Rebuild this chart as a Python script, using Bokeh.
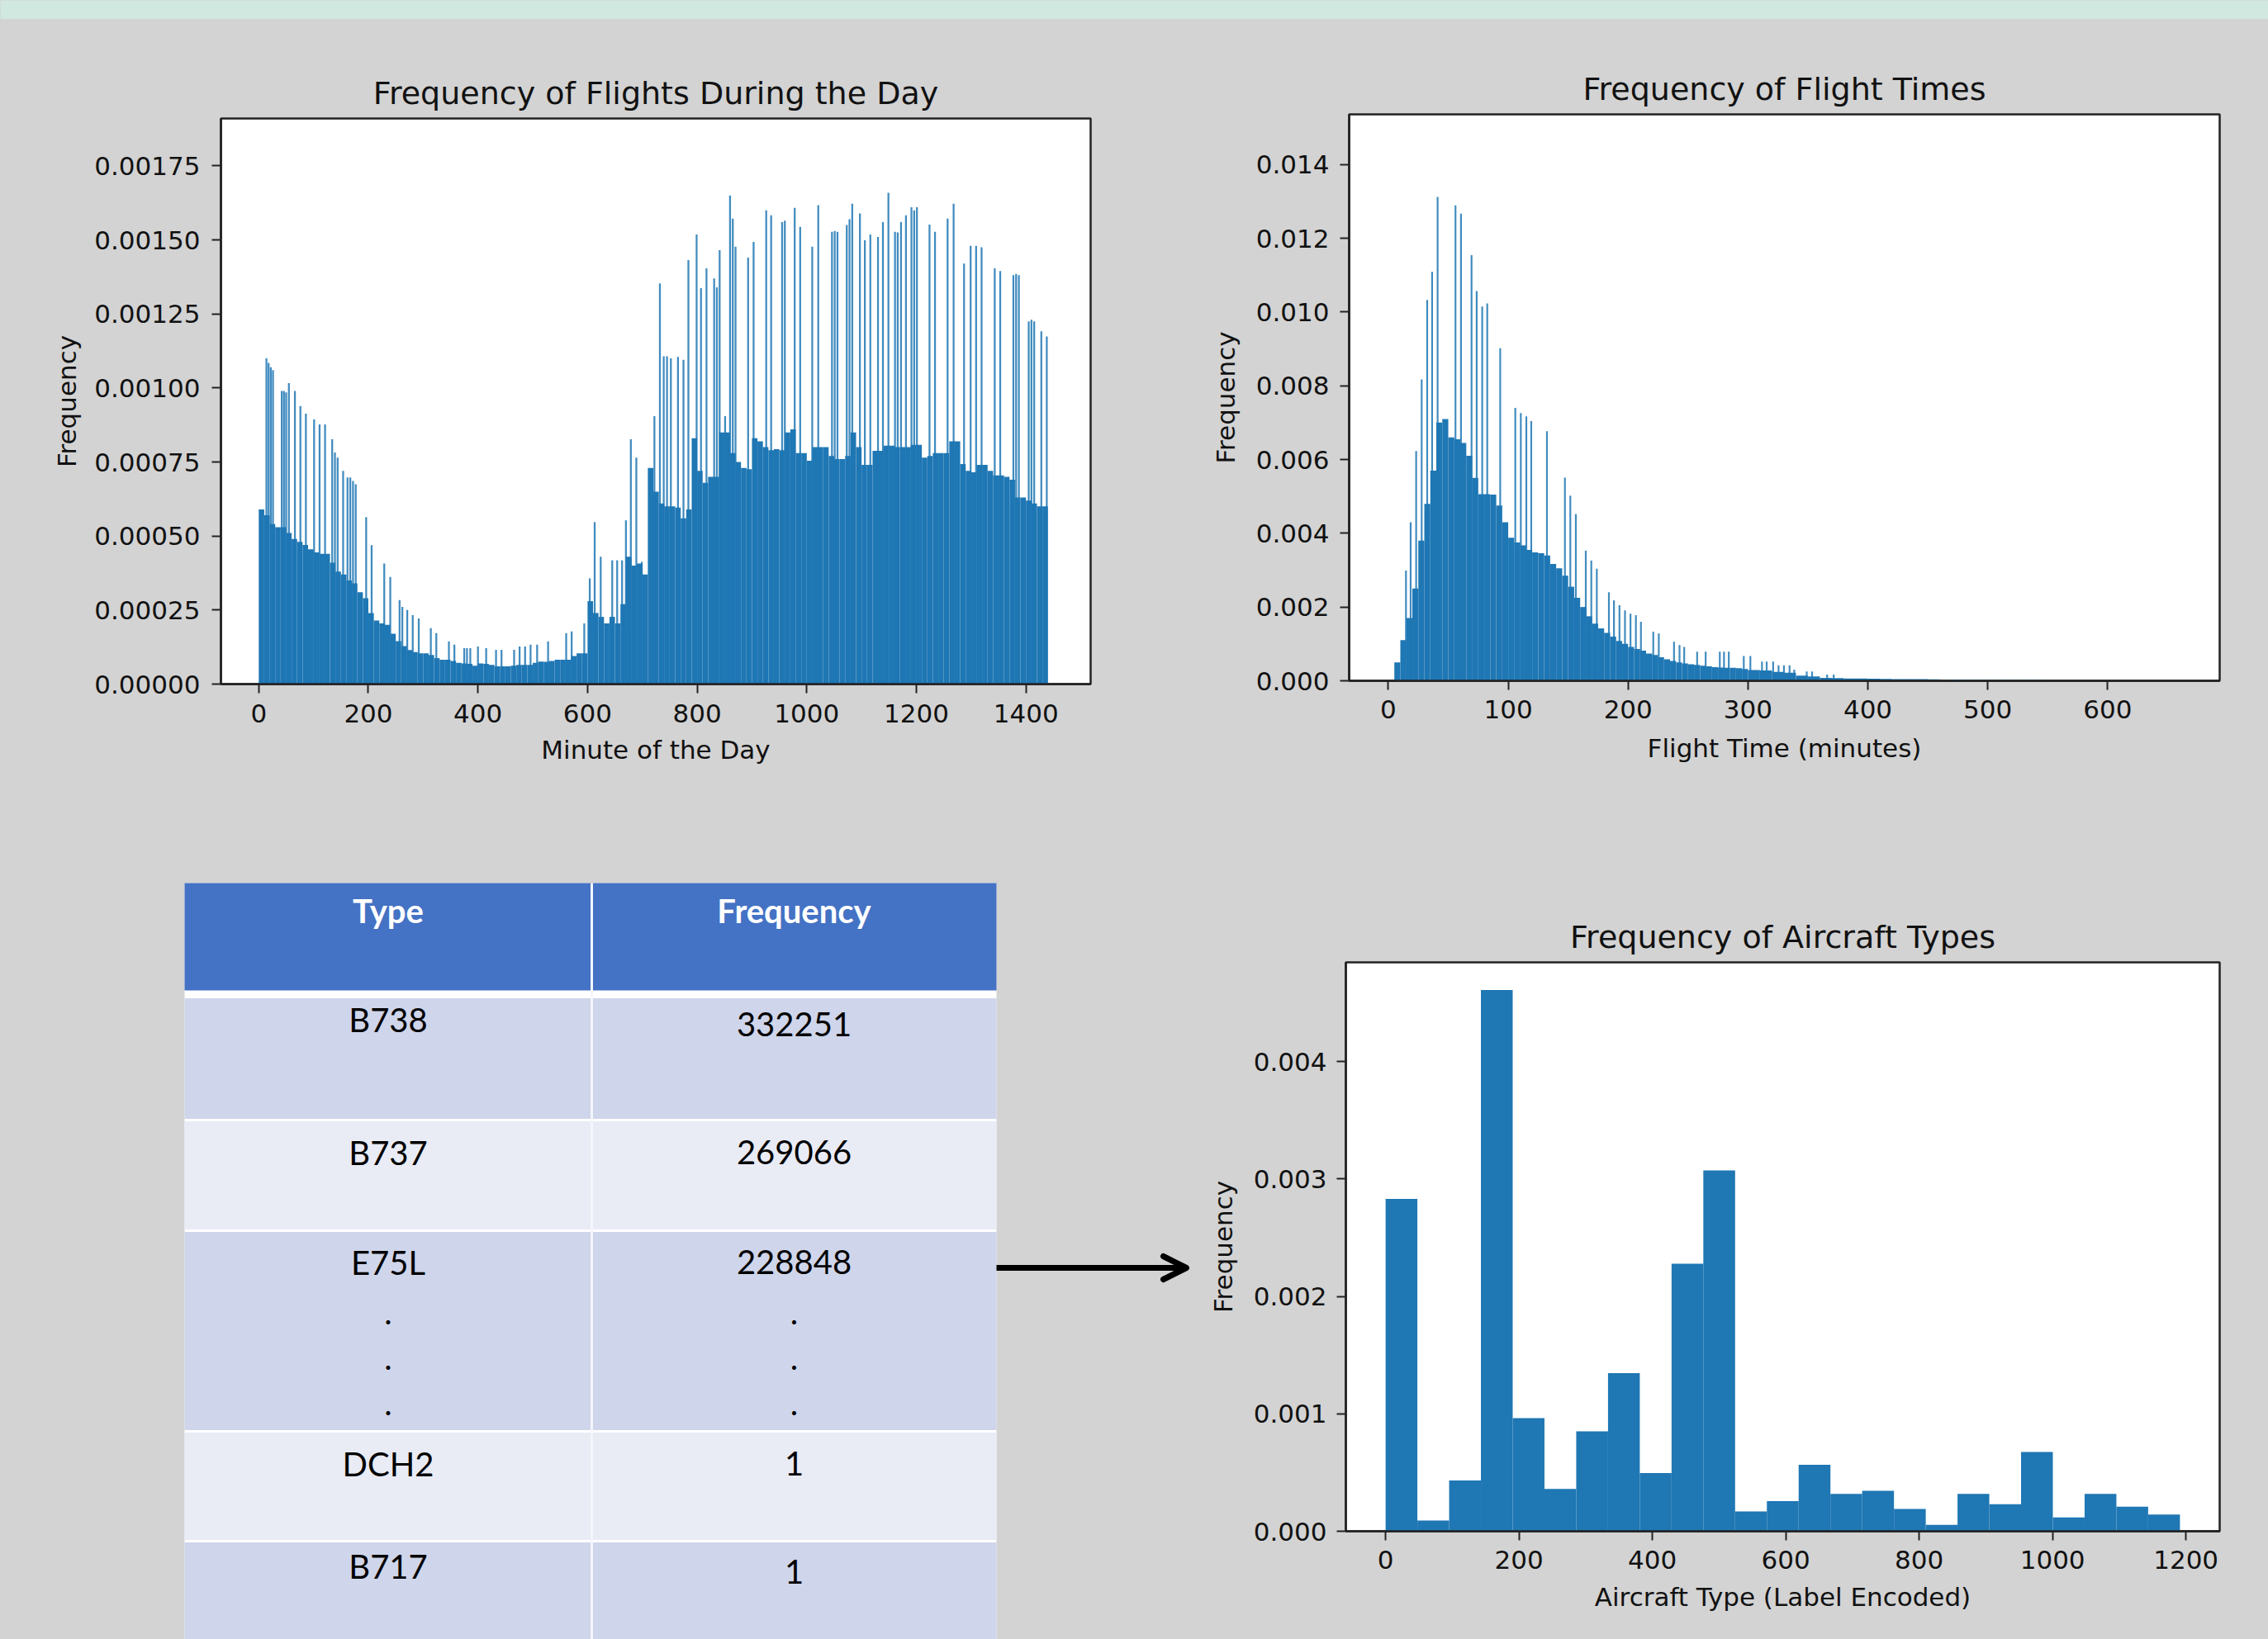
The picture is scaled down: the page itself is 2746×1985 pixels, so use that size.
import numpy as np
from bokeh.plotting import figure
from bokeh.layouts import column, row
from bokeh.models import Range1d, FixedTicker, PrintfTickFormatter, Arrow, OpenHead
from bokeh.core.properties import value
from bokeh.embed import file_html
from bokeh.resources import INLINE

# ------------------------------------------------------------------ data
# Chart 1: minute of the day (density, values in 1e-5), base level per 10-minute bin
day_base_start = 0
day_base_step = 10
day_base_e5 = [59, 57, 54, 53, 53, 51, 49, 48, 47, 45.5,
               44.5, 44, 44, 41, 38, 37, 35, 34, 31, 29,
               24, 21.5, 20.5, 20, 17, 14.5, 12.8, 11.5, 10.8, 10.4,
               10.4, 9.8, 8.8, 8.2, 8.2, 7.8, 7.2, 7.0, 6.8, 6.2,
               7.0, 6.8, 6.5, 6.0, 6.0, 6.0, 6.2, 6.5, 6.5, 6.5,
               7.2, 7.6, 7.5, 7.8, 8.2, 8.2, 8.2, 9.5, 10.4, 10.4,
               28, 24, 22.7, 20.5, 22.7, 20.5, 27, 43, 40, 40.7,
               37, 73, 65, 61, 60, 60, 59.6, 56, 59, 83,
               72, 68, 70, 70, 85, 85, 78, 75, 73, 72.6,
               83, 82, 80, 79, 79.3, 79, 85, 86, 78, 78,
               75.4, 80, 80, 80, 77, 76, 76, 77, 85, 80,
               74, 74, 78.8, 78.8, 80.5, 80.5, 80, 80, 80, 80.8,
               80.8, 76.5, 77, 78, 78, 78, 82, 82, 74.3, 72,
               71.5, 74, 74, 72, 70.5, 70.5, 70, 69, 63, 63,
               62, 61, 60, 60]
day_spike_x = [14, 18, 22, 26, 42, 46, 50, 55, 66, 76, 86, 101, 111, 121,
               134, 139, 144, 154, 162, 167, 172, 177, 196, 206, 229, 240,
               257, 262, 271, 281, 292, 314, 324, 347, 357, 375, 380, 386,
               400, 415, 433, 443, 466, 476, 486, 496, 508, 528, 561, 571,
               594, 604, 613, 624, 645, 654, 663, 670, 679, 689, 699,
               722, 732, 739, 745, 752, 765, 775, 784, 799, 807, 817, 831,
               836, 841, 851, 860, 865, 870, 893, 903, 926, 935, 955, 960,
               978, 988, 1010, 1021, 1046, 1051, 1056, 1073, 1078, 1083,
               1097, 1106, 1116, 1130, 1139, 1149, 1161, 1166, 1172, 1181,
               1191, 1196, 1201, 1224, 1234, 1257, 1268, 1287, 1299, 1309,
               1319, 1343, 1353, 1377, 1382, 1387, 1405, 1410, 1415, 1428, 1438]
day_spike_e5 = [110, 108.5, 107, 106, 99, 99, 98.5, 101.6, 99, 93.9, 91.3, 89.4, 87.7, 87.7,
                82.7, 78.2, 76.5, 72, 69.8, 69.8, 68.6, 67.5, 56.4, 46.9, 40.7, 36.2,
                28.4, 26.1, 25, 23.3, 22.2, 18.9, 17.2, 14.4, 13.3, 12.1, 12.1, 12.1,
                12.7, 12.1, 11.6, 11.6, 11.6, 12.7, 12.7, 13.3, 13.3, 14.4, 17.2, 17.8,
                20.5, 35.7, 54.7, 43, 41.8, 41.8, 41.8, 55.3, 82.7, 76.5, 41.3,
                90.5, 135.3, 110.7, 110.7, 110, 110.5, 109.5, 143.2, 151.8, 133.7, 140.4, 137,
                134, 146.5, 90.5, 165, 157.2, 147.7, 144, 149.3, 160, 158.3, 156, 156.5,
                160.8, 154.4, 147.7, 161.7, 152.7, 153, 152.7, 155, 157, 162.2,
                158.9, 149.9, 151.8, 151, 156, 165.9, 152.7, 152.5, 156, 158.3,
                161, 160, 161, 155.2, 152.7, 157.2, 162.2, 142, 148, 148,
                147.5, 140.4, 139.5, 138.1, 138.5, 138.1, 122.5, 123, 122.5, 119.1, 117.4]

# Chart 2: flight time in minutes (density, values in 1e-4)
ft_base_start = 5
ft_base_step = 5
ft_base_e4 = [5, 11, 17, 25, 38, 48, 57, 70, 71, 66,
              65.5, 64.5, 61, 55, 50.6, 50.6, 50.5, 47.5, 43, 38.8,
              37.5, 36.7, 35.5, 34.8, 34.6, 34, 31.7, 30.5, 28.5, 25.5,
              22.5, 20, 17.5, 15.5, 14.2, 13, 12, 10.8, 10, 9.2,
              8.6, 8.2, 7.4, 7, 6.4, 5.8, 5.4, 5, 4.7, 4.5,
              4.3, 4.1, 3.9, 3.7, 3.6, 3.5, 3.5, 3.4, 3.2]
ft_tail_start = 300
ft_tail_step = 10
ft_tail_e4 = [2.9, 2.8, 2.4, 2.2, 1.4, 1.2, 0.8, 0.7, 0.6, 0.6,
              0.55, 0.5, 0.45, 0.45, 0.42, 0.4, 0.2, 0.35, 0.3, 0.3,
              0.25, 0.3, 0.25, 0.3, 0.2]
ft_spike_x = [14.7, 18.6, 23.2, 27.8, 32.4, 36.5, 41.1, 56, 60.6, 69.4, 73.7, 78.3, 82.5,
              93.3, 105.9, 110.5, 115.1, 119.2, 132.3, 147.3, 151.8, 156.4, 164.7, 169.3,
              173.9, 184, 188.2, 192.8, 197.4, 202, 206.5, 210.7, 221, 225.6, 238.3, 242.9,
              246.8, 257.6, 264.7, 276.5, 280, 284, 296.5, 302, 311.7, 315.6, 321, 325.5,
              330, 334.7, 338.6, 349, 353.5, 366, 371.5]
ft_spike_e4 = [29.9, 43, 62.3, 81.7, 103.3, 110.9, 131.2, 128.9, 126.7, 115.4, 105.7, 101.5, 102.3,
               90.2, 74, 72.6, 71.7, 70.4, 67.7, 55.1, 50.2, 45.2, 35.3, 32.6,
               30.4, 24, 21.8, 20.5, 19.1, 18.2, 17.8, 16, 13.3, 12.8, 10.6, 9.7,
               9.2, 7.9, 7.9, 7.9, 7.9, 7.9, 6.7, 6.7, 5.2, 5.2, 5.2, 4.2,
               4.2, 4.2, 3.0, 2.5, 2.5, 1.7, 1.7]

# Chart 3: aircraft type (label encoded), 25 bins, density values in 1e-3
ac_min, ac_max = 0, 1191
ac_density_e3 = [2.830, 0.092, 0.432, 4.608, 0.964, 0.361, 0.851, 1.346, 0.495, 2.277,
                 3.073, 0.168, 0.256, 0.566, 0.319, 0.344, 0.189, 0.055, 0.319, 0.231,
                 0.675, 0.117, 0.319, 0.210, 0.143]

# Table
table_header = ["Type", "Frequency"]
table_types = ["B738", "B737", "E75L", "DCH2", "B717"]
table_freqs = ["332251", "269066", "228848", "1", "1"]
ellipsis_row = 2

# ------------------------------------------------------------------ style
GRAY = "#d3d3d3"
TEAL = "#d0e8e0"
BLUE = "#1f77b4"
FONT = "DejaVu Sans"


def no_frame_align(p):
    if "frame_align" in p.properties():
        p.frame_align = False


def hist_fig(width, height, borders, xr, yr, title, xlabel, xticks, yticks, yfmt,
             x_std, x_lab_std, y_std, y_lab_std):
    left, right, top, bottom = borders
    p = figure(width=width, height=height, x_range=Range1d(*xr), y_range=Range1d(*yr),
               output_backend="svg", toolbar_location=None, title=title,
               min_border_left=left, min_border_right=right,
               min_border_top=top, min_border_bottom=bottom)
    no_frame_align(p)
    p.border_fill_color = GRAY
    p.background_fill_color = "white"
    p.outline_line_color = "#222222"
    p.outline_line_width = 2.5
    p.grid.visible = False
    p.title.text_font = FONT
    p.title.text_font_size = "38px"
    p.title.text_font_style = "normal"
    p.title.text_color = "#111111"
    p.title.align = "center"
    p.title.standoff = 17
    for ax in (p.xaxis, p.yaxis):
        ax.major_tick_out = 11
        ax.major_tick_in = 0
        ax.minor_tick_out = 0
        ax.minor_tick_in = 0
        ax.major_tick_line_width = 2
        ax.major_tick_line_color = "#222222"
        ax.axis_line_width = 2.5
        ax.axis_line_color = "#222222"
        ax.major_label_text_font = FONT
        ax.major_label_text_font_size = "31px"
        ax.major_label_text_color = "#111111"
        ax.axis_label_text_font = FONT
        ax.axis_label_text_font_size = "31px"
        ax.axis_label_text_font_style = "normal"
        ax.axis_label_text_color = "#111111"
    p.xaxis.axis_label = xlabel
    p.yaxis.axis_label = "Frequency"
    p.xaxis.ticker = FixedTicker(ticks=xticks)
    p.yaxis.ticker = FixedTicker(ticks=yticks)
    p.yaxis.formatter = PrintfTickFormatter(format=yfmt)
    p.xaxis.major_label_standoff = x_std
    p.xaxis.axis_label_standoff = x_lab_std
    p.yaxis.major_label_standoff = y_std
    p.yaxis.axis_label_standoff = y_lab_std
    return p


# ------------------------------------------------------------------ strip
strip = figure(width=2746, height=23, min_border=0, x_axis_location=None, y_axis_location=None,
               toolbar_location=None, output_backend="svg", x_range=Range1d(0, 1), y_range=Range1d(0, 1))
no_frame_align(strip)
strip.border_fill_color = TEAL
strip.background_fill_color = TEAL
strip.outline_line_color = None
strip.grid.visible = False

# ------------------------------------------------------------------ chart 1
pA = hist_fig(1450, 977, (267, 130, 120, 172), (-69, 1518), (0, 0.00191),
              "Frequency of Flights During the Day", "Minute of the Day",
              list(range(0, 1401, 200)), [i * 0.00025 for i in range(8)], "%.5f",
              13, 12, 14, 12)
db = np.array(day_base_e5) * 1e-5
dl = day_base_start + day_base_step * np.arange(len(db))
pA.quad(left=dl, right=dl + day_base_step, top=db, bottom=0, fill_color=BLUE, line_color=None)
pA.vbar(x=day_spike_x, width=3.4, top=np.array(day_spike_e5) * 1e-5, bottom=0,
        fill_color=BLUE, fill_alpha=0.85, line_color=None)

# ------------------------------------------------------------------ chart 2
pB = hist_fig(1296, 977, (183, 59, 115, 176), (-32.7, 693.5), (0, 0.01536),
              "Frequency of Flight Times", "Flight Time (minutes)",
              list(range(0, 601, 100)), [i * 0.002 for i in range(8)], "%.3f",
              12, 15, 13, 16)
fb = np.array(ft_base_e4) * 1e-4
fl = ft_base_start + ft_base_step * np.arange(len(fb))
pB.quad(left=fl, right=fl + ft_base_step, top=fb, bottom=0, fill_color=BLUE, line_color=None)
ftb = np.array(ft_tail_e4) * 1e-4
ftl = ft_tail_start + ft_tail_step * np.arange(len(ftb))
pB.quad(left=ftl, right=ftl + ft_tail_step, top=ftb, bottom=0, fill_color=BLUE, line_color=None)
pB.vbar(x=ft_spike_x, width=1.5, top=np.array(ft_spike_e4) * 1e-4, bottom=0,
        fill_color=BLUE, fill_alpha=0.85, line_color=None)

# ------------------------------------------------------------------ chart 3
pC = hist_fig(1296, 985, (179, 59, 165, 131), (-59.6, 1250.6), (0, 0.004844),
              "Frequency of Aircraft Types", "Aircraft Type (Label Encoded)",
              list(range(0, 1201, 200)), [i * 0.001 for i in range(5)], "%.3f",
              12, 13, 12, 16)
edges = np.linspace(ac_min, ac_max, len(ac_density_e3) + 1)
pC.quad(left=edges[:-1], right=edges[1:], top=np.array(ac_density_e3) * 1e-3, bottom=0,
        fill_color=BLUE, line_color=None)

# ------------------------------------------------------------------ table (drawn in page pixels)
tab = figure(width=1450, height=985, x_range=Range1d(0, 1450), y_range=Range1d(1985, 1000),
             min_border=0, x_axis_location=None, y_axis_location=None,
             toolbar_location=None, output_backend="svg")
no_frame_align(tab)
tab.border_fill_color = GRAY
tab.background_fill_color = GRAY
tab.outline_line_color = None
tab.grid.visible = False

col_edges = [223, 716, 1206]
col_centers = [(col_edges[i] + col_edges[i + 1]) / 2 for i in range(2)]
header_top, header_bottom = 1069, 1199
row_heights = [149, 134, 243, 133, 130]
first_row_top = 1207
row_tops = first_row_top + np.concatenate([[0], np.cumsum(row_heights)[:-1]])
row_bottoms = row_tops + np.array(row_heights)
row_colors = ["#cfd5ea" if i % 2 == 0 else "#e9ebf5" for i in range(len(row_heights))]
type_text_offset = [27, 39, 38, 39, 30]
freq_text_offset = [33, 39, 38, 39, 37]

# white under-layer
tab.quad(left=[col_edges[0]], right=[col_edges[-1]], top=[header_top], bottom=[row_bottoms[-1]],
         fill_color="white", line_color=None)
# header
tab.quad(left=[col_edges[0]], right=[col_edges[-1]], top=[header_top], bottom=[header_bottom],
         fill_color="#4472c4", line_color=None)
# body rows
tab.quad(left=[col_edges[0]] * len(row_tops), right=[col_edges[-1]] * len(row_tops),
         top=row_tops + 1.5, bottom=row_bottoms - 1.5, fill_color=row_colors, line_color=None)
# column divider
tab.segment(x0=[col_edges[1]], x1=[col_edges[1]], y0=[header_top], y1=[row_bottoms[-1]],
            line_color="#f4f6fb", line_width=3)

tab.text(x=col_centers, y=[1102, 1102], text=table_header, text_font=value("Lato"),
         text_font_size=value("40px"), text_font_style="bold", text_color="white",
         text_align="center", text_baseline="middle")
tab.text(x=[col_centers[0]] * len(table_types), y=list(row_tops + np.array(type_text_offset)),
         text=table_types, text_font=value("Lato"),
         text_font_size=value("40px"), text_color="black", text_align="center", text_baseline="middle")
tab.text(x=[col_centers[1]] * len(table_freqs), y=list(row_tops + np.array(freq_text_offset)),
         text=table_freqs, text_font=value("Lato"),
         text_font_size=value("40px"), text_color="black", text_align="center", text_baseline="middle")
dot_y = [row_tops[ellipsis_row] + 38 + k * 55 + 61 for k in range(3)]
for cx in col_centers:
    tab.text(x=[cx] * 3, y=dot_y, text=["."] * 3, text_font=value("Lato"),
             text_font_size=value("40px"), text_color="black", text_align="center",
             text_baseline="alphabetic")

tab.add_layout(Arrow(x_start=col_edges[-1], y_start=1535, x_end=1436, y_end=1535,
                     line_width=7, line_color="black",
                     end=OpenHead(size=28, line_width=7, line_color="black", line_cap="round",
                                  line_join="round")))

layout = column(strip, row(pA, pB), row(tab, pC), styles={"background-color": GRAY})
open("out.html", "w").write(file_html(layout, INLINE))
